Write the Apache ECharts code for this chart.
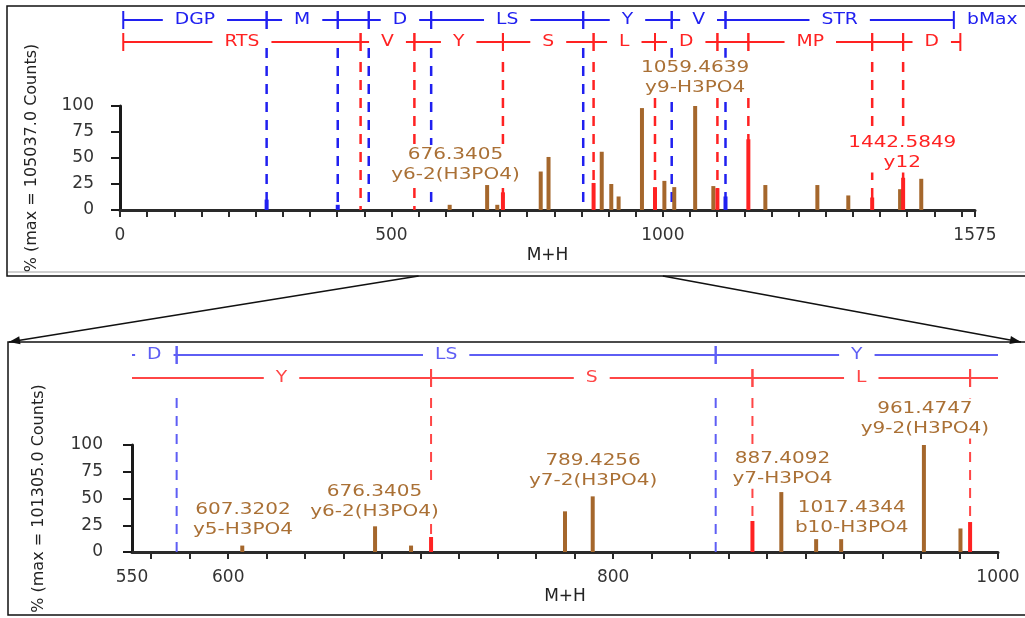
<!DOCTYPE html>
<html>
<head>
<meta charset="utf-8">
<title>Spectrum</title>
<script src="https://cdn.jsdelivr.net/npm/echarts@6.0.0/dist/echarts.min.js"></script>
<style>
  html, body { margin: 0; padding: 0; background: #fff; }
  #chart { width: 1025px; height: 618px; }
</style>
</head>
<body>
<div id="chart"></div>
<script>
const FONT = '"DejaVu Sans", sans-serif';
const BROWN = '#a5672c';
const BROWN_TEXT = '#aa7035';
const RED = '#ff2222';
const BLUE = '#2020f0';
const RED_ZOOM = '#ff4646';
const BLUE_ZOOM = '#5e5ef4';
const STRETCH = 1.25;

const intensityTicks = [0, 25, 50, 75, 100];

// full range, 0 - 1575
const fullTickMarks = [0, 50, 100, 150, 200, 250, 300, 350, 400, 450, 500, 550, 600, 650, 700, 750, 800,
  850, 900, 950, 1000, 1050, 1100, 1150, 1200, 1250, 1300, 1350, 1400, 1450, 1500, 1550, 1575];
const fullTickLabels = [0, 500, 1000, 1575];

const fullBrownMz = [607.3, 676.3, 695.0, 775.0, 789.4, 887.4, 905.0, 918.5, 961.5, 1002.8, 1021.0,
  1059.5, 1093.0, 1188.8, 1284.6, 1341.6, 1437.0, 1476.0];
const fullBrownInt = [5, 24, 5, 37, 51, 56, 25, 13, 98, 28, 22, 100, 23, 24, 24, 14, 20, 30];
const fullRedMz = [705.4, 872.4, 985.5, 1100.5, 1157.5, 1385.6, 1442.6];
const fullRedInt = [17, 26, 22, 21, 68, 12, 31];
const fullBlueMz = [270.1, 401.1, 1115.4];
const fullBlueInt = [10, 5, 13];

const bLadderMz = [6, 270.1, 401.1, 458.2, 573.2, 853.3, 1016.3, 1115.4, 1536];
const bLadderRes = ['DGP', 'M', '', 'D', 'LS', 'Y', 'V', 'STR'];
const yLadderMz = [6, 443.2, 542.3, 705.4, 872.4, 985.5, 1100.5, 1157.5, 1385.6, 1442.6, 1548];
const yLadderRes = ['RTS', 'V', 'Y', 'S', 'L', 'D', '', 'MP', '', 'D'];

const fullNotesMz = [618, 1059.5, 1441];
const fullNotesLevel = [24, 108, 36];
const fullNotesText = [['676.3405', 'y6-2(H3PO4)'], ['1059.4639', 'y9-H3PO4'], ['1442.5849', 'y12']];
const fullNotesIon = ['loss', 'loss', 'y'];

// zoomed range, 550 - 1000
const zoomTickMarks = [560, 580, 600, 620, 640, 660, 680, 700, 720, 740, 760, 780, 800, 820, 840, 860,
  880, 900, 920, 940, 960, 980, 1000];
const zoomTickLabels = [550, 600, 800, 1000];

const zoomBrownMz = [607.3, 676.3, 695.0, 775.0, 789.4, 887.4, 905.5, 918.5, 961.5, 980.5];
const zoomBrownInt = [6, 24, 6, 38, 52, 56, 12, 12, 100, 22];
const zoomRedMz = [705.4, 872.4, 985.5];
const zoomRedInt = [14, 29, 28];

const zoomNotesMz = [607.7, 676, 789.6, 888, 924, 962];
const zoomNotesLevel = [11, 28, 57, 59, 13, 106];
const zoomNotesText = [['607.3202', 'y5-H3PO4'], ['676.3405', 'y6-2(H3PO4)'], ['789.4256', 'y7-2(H3PO4)'],
  ['887.4092', 'y7-H3PO4'], ['1017.4344', 'b10-H3PO4'], ['961.4747', 'y9-2(H3PO4)']];
const zoomNotesIon = ['loss', 'loss', 'loss', 'loss', 'loss', 'loss'];

const ctx = document.createElement('canvas').getContext('2d');
function textWidth(text, size) {
  ctx.font = size + 'px ' + FONT;
  return ctx.measureText(text).width;
}

function peakSeries(idx, mz, inten, color) {
  return {
    type: 'bar', xAxisIndex: idx, yAxisIndex: idx, barWidth: 4, barGap: '-100%', z: 2, silent: true,
    itemStyle: { color },
    data: mz.map((m, i) => [m, inten[i]])
  };
}

function dropSeries(idx, marks, color, offset, width, dash) {
  return {
    type: 'custom', xAxisIndex: idx, yAxisIndex: idx, z: 1, silent: true,
    data: marks.map(v => [v, 0]),
    renderItem(params, api) {
      const v = api.value(0);
      const base = api.coord([v, 0]);
      const top = api.coord([v, 100])[1] - offset;
      return {
        type: 'line',
        shape: { x1: base[0], y1: top, x2: base[0], y2: base[1] },
        style: { stroke: color, lineWidth: width, lineDash: dash }
      };
    }
  };
}

function ladderSeries(idx, mz, res, color, offset, xmin, xmax) {
  return {
    type: 'custom', xAxisIndex: idx, yAxisIndex: idx, z: 4, silent: true,
    data: res.map((r, i) => [mz[i], mz[i + 1]]),
    renderItem(params, api) {
      const a = api.value(0), b = api.value(1);
      const lo = Math.max(a, xmin), hi = Math.min(b, xmax);
      if (hi <= lo) return null;
      const x1 = api.coord([lo, 0])[0], x2 = api.coord([hi, 0])[0];
      const y = api.coord([lo, 100])[1] - offset;
      const stroke = { stroke: color, lineWidth: 2 };
      const kids = [];
      const seg = (p, q) => {
        if (q - p > 0.5) kids.push({ type: 'line', shape: { x1: p, y1: y, x2: q, y2: y }, style: stroke });
      };
      if (a >= xmin) kids.push({ type: 'line', shape: { x1: x1, y1: y - 9, x2: x1, y2: y + 9 }, style: stroke });
      if (b <= xmax) kids.push({ type: 'line', shape: { x1: x2, y1: y - 9, x2: x2, y2: y + 9 }, style: stroke });
      const name = res[params.dataIndex];
      const half = name ? textWidth(name, 15) * STRETCH / 2 + 12 : 0;
      if (name && x2 - x1 > half * 2) {
        const cx = (x1 + x2) / 2;
        seg(x1, cx - half);
        seg(cx + half, x2);
        kids.push({
          type: 'text', x: cx, y: y, scaleX: STRETCH,
          style: { text: name, fill: color, font: '15px ' + FONT, align: 'center', verticalAlign: 'middle' }
        });
      } else {
        seg(x1, x2);
      }
      return { type: 'group', children: kids };
    }
  };
}

function noteSeries(idx, mz, level, texts, ions) {
  return {
    type: 'custom', xAxisIndex: idx, yAxisIndex: idx, z: 5, silent: true,
    data: mz.map((m, i) => [m, level[i]]),
    renderItem(params, api) {
      const p = api.coord([api.value(0), api.value(1)]);
      const lines = texts[params.dataIndex];
      const color = ions[params.dataIndex] === 'y' ? RED : BROWN_TEXT;
      const w = Math.max(...lines.map(t => textWidth(t, 16))) * STRETCH + 4;
      const h = lines.length * 20;
      const kids = [{ type: 'rect', shape: { x: p[0] - w / 2, y: p[1] - h, width: w, height: h }, style: { fill: '#fff' } }];
      lines.forEach((t, k) => {
        kids.push({
          type: 'text', x: p[0], y: p[1] - h + 10 + 20 * k, scaleX: STRETCH,
          style: { text: t, fill: color, font: '16px ' + FONT, align: 'center', verticalAlign: 'middle' }
        });
      });
      return { type: 'group', children: kids };
    }
  };
}

function xAxisOf(idx, min, max, ticks, labels, gap) {
  return {
    type: 'value', gridIndex: idx, min, max,
    name: 'M+H', nameLocation: 'middle', nameGap: gap,
    nameTextStyle: { fontFamily: FONT, fontSize: 17, color: '#222' },
    axisLine: { onZero: false, lineStyle: { color: '#2a2a2a', width: 3 } },
    axisTick: { customValues: ticks, length: 7, lineStyle: { color: '#2a2a2a', width: 2 } },
    axisLabel: {
      customValues: labels, margin: 17, fontFamily: FONT, fontSize: 17, color: '#333',
      formatter: v => String(v)
    },
    splitLine: { show: false }
  };
}

function yAxisOf(idx, name, gap, margin) {
  return {
    type: 'value', gridIndex: idx, min: 0, max: 100, interval: 25,
    name, nameLocation: 'middle', nameGap: gap, nameRotate: 90,
    nameTextStyle: { fontFamily: FONT, fontSize: 16, color: '#222' },
    axisLine: { show: true, lineStyle: { color: '#1a1a1a', width: 3 } },
    axisTick: { show: true, length: 9, lineStyle: { color: '#1a1a1a', width: 2 } },
    axisLabel: {
      margin, fontFamily: FONT, fontSize: 17, color: '#333',
      formatter: v => intensityTicks.includes(v) ? String(v) : ''
    },
    splitLine: { show: false }
  };
}

const inRange = (lo, hi) => v => v > lo && v < hi;
const fullBDrops = bLadderMz.slice(1, -1);
const fullYDrops = yLadderMz.slice(1, -1);
const zoomBDrops = bLadderMz.slice(1, -1).filter(inRange(550, 1000));
const zoomYDrops = yLadderMz.slice(1, -1).filter(inRange(550, 1000));

const chart = echarts.init(document.getElementById('chart'));

chart.setOption({
  animation: false,
  backgroundColor: '#fff',
  grid: [
    { left: 120, top: 106, width: 855, height: 104 },
    { left: 132, top: 445, width: 866, height: 107 }
  ],
  xAxis: [
    xAxisOf(0, 0, 1575, fullTickMarks, fullTickLabels, 37),
    xAxisOf(1, 550, 1000, zoomTickMarks, zoomTickLabels, 36)
  ],
  yAxis: [
    yAxisOf(0, '% (max = 105037.0 Counts)', 80, 26),
    yAxisOf(1, '% (max = 101305.0 Counts)', 85, 29)
  ],
  series: [
    dropSeries(0, fullBDrops, BLUE, 58, 2.5, [10, 8]),
    dropSeries(0, fullYDrops, RED, 44, 2.5, [10, 8]),
    peakSeries(0, fullBrownMz, fullBrownInt, BROWN),
    peakSeries(0, fullRedMz, fullRedInt, RED),
    peakSeries(0, fullBlueMz, fullBlueInt, BLUE),
    ladderSeries(0, bLadderMz, bLadderRes, BLUE, 86, 0, 1575),
    ladderSeries(0, yLadderMz, yLadderRes, RED, 64, 0, 1575),
    noteSeries(0, fullNotesMz, fullNotesLevel, fullNotesText, fullNotesIon),

    dropSeries(1, zoomBDrops, BLUE_ZOOM, 47, 2, [10, 8]),
    dropSeries(1, zoomYDrops, RED_ZOOM, 47, 2, [10, 8]),
    peakSeries(1, zoomBrownMz, zoomBrownInt, BROWN),
    peakSeries(1, zoomRedMz, zoomRedInt, RED),
    ladderSeries(1, bLadderMz, bLadderRes, BLUE_ZOOM, 90, 550, 1000),
    ladderSeries(1, yLadderMz, yLadderRes, RED_ZOOM, 67, 550, 1000),
    noteSeries(1, zoomNotesMz, zoomNotesLevel, zoomNotesText, zoomNotesIon)
  ]
});

// panel frames and the two zoom arrows
function arrow(from, to) {
  const dx = to[0] - from[0], dy = to[1] - from[1];
  const len = Math.hypot(dx, dy);
  const ux = dx / len, uy = dy / len;
  const back = [to[0] - ux * 11, to[1] - uy * 11];
  return [
    { type: 'line', shape: { x1: from[0], y1: from[1], x2: to[0], y2: to[1] }, style: { stroke: '#111', lineWidth: 1.5 } },
    {
      type: 'polygon',
      shape: { points: [to, [back[0] - uy * 4, back[1] + ux * 4], [back[0] + uy * 4, back[1] - ux * 4]] },
      style: { fill: '#111' }
    }
  ];
}

const left550 = chart.convertToPixel({ xAxisIndex: 0 }, 550);
const right1000 = chart.convertToPixel({ xAxisIndex: 0 }, 1000);

chart.setOption({
  graphic: [
    { type: 'rect', shape: { x: 7, y: 6, width: 1030, height: 270 }, style: { fill: 'none', stroke: '#111', lineWidth: 1.5 } },
    { type: 'line', shape: { x1: 8, y1: 272, x2: 1025, y2: 272 }, style: { stroke: '#cfcfcf', lineWidth: 2 } },
    { type: 'rect', shape: { x: 8, y: 342, width: 1030, height: 273 }, style: { fill: 'none', stroke: '#111', lineWidth: 1.5 } },
    { type: 'text', x: 967, y: 20, scaleX: STRETCH, style: { text: 'bMax', fill: BLUE, font: '15px ' + FONT, verticalAlign: 'middle' } },
    ...arrow([left550, 276], [9, 342]),
    ...arrow([right1000, 276], [1021, 342])
  ]
});

window.addEventListener('resize', () => chart.resize());
</script>
</body>
</html>
